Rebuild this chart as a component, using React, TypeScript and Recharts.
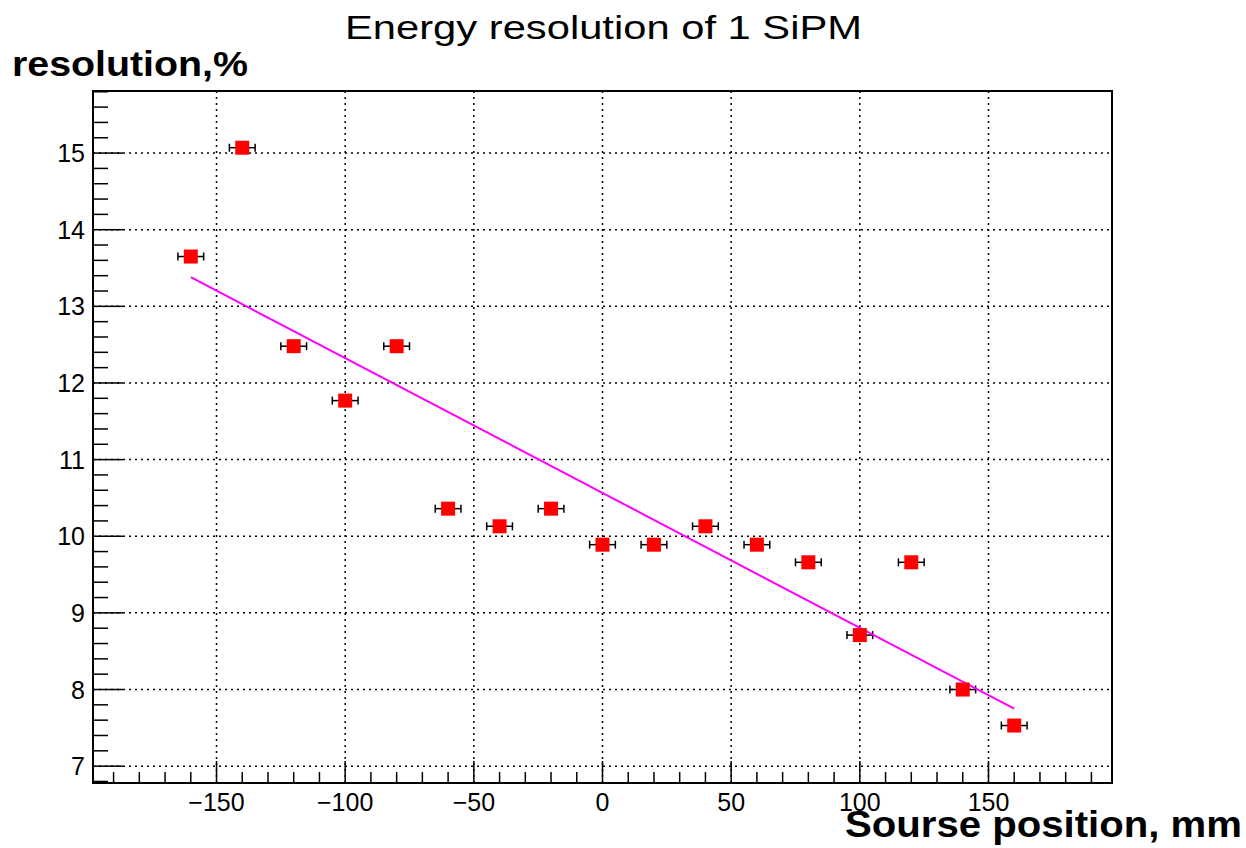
import React from 'react';
import {
  ComposedChart,
  Scatter,
  XAxis,
  YAxis,
  ErrorBar,
  ReferenceLine,
  ReferenceArea,
} from 'recharts';

const positions = [-160, -140, -120, -100, -80, -60, -40, -20, 0, 20, 40, 60, 80, 100, 120, 140, 160];
const resolution = [13.65, 15.07, 12.48, 11.77, 12.48, 10.36, 10.13, 10.36, 9.89, 9.89, 10.13, 9.89, 9.66, 8.71, 9.66, 8.0, 7.53];
const positionErrors = [5, 5, 5, 5, 5, 5, 5, 5, 5, 5, 5, 5, 5, 5, 5, 5, 5];

const fitX = [-160, 160];
const fitY = [13.38, 7.75];

const xMajorTicks = [-150, -100, -50, 0, 50, 100, 150];
const yMajorTicks = [7, 8, 9, 10, 11, 12, 13, 14, 15];

const X_DOMAIN: [number, number] = [-198, 198];
const Y_DOMAIN: [number, number] = [6.78, 15.81];

const xAllTicks: number[] = [];
for (let v = -190; v <= 190; v += 10) xAllTicks.push(v);
const yAllTicks: number[] = [];
for (let i = 34; i <= 79; i++) yAllTicks.push(Math.round(i * 2) / 10);

const points = positions.map((x, i) => ({ x, y: resolution[i], ex: positionErrors[i] }));
const fitData = fitX.map((x, i) => ({ x, y: fitY[i] }));

const FONT = '"Liberation Sans", Arial, Helvetica, sans-serif';

const XTick = (props: any) => {
  const { x, y, payload } = props;
  const v = payload.value;
  const major = xMajorTicks.includes(v);
  const len = major ? 22 : 11;
  return (
    <g>
      <line x1={x} y1={y} x2={x} y2={y - len} stroke="#000" strokeWidth={1.5} />
      {major && (
        <text x={x} y={y + 28} textAnchor="middle" fontSize={25} fontFamily={FONT} fill="#000">
          {v < 0 ? `\u2212${Math.abs(v)}` : `${v}`}
        </text>
      )}
    </g>
  );
};

const YTick = (props: any) => {
  const { x, y, payload } = props;
  const v = payload.value;
  const major = yMajorTicks.some((m) => Math.abs(m - v) < 1e-6);
  const len = major ? 30 : 15;
  return (
    <g>
      <line x1={x} y1={y} x2={x + len} y2={y} stroke="#000" strokeWidth={1.5} />
      {major && (
        <text x={x - 8} y={y + 9} textAnchor="end" fontSize={25} fontFamily={FONT} fill="#000">
          {`${v}`}
        </text>
      )}
    </g>
  );
};

const SquareMarker = (props: any) => {
  const { cx, cy } = props;
  if (cx == null || cy == null) return <g />;
  return <rect x={cx - 7} y={cy - 7} width={14} height={14} fill="#ff0000" />;
};

const NoMarker = () => <g />;

export default function App() {
  return (
    <div style={{ position: 'absolute', left: 0, top: 0, width: 1246, height: 848, background: '#fff' }}>
      <ComposedChart
        width={1246}
        height={848}
        margin={{ top: 91, right: 134, bottom: 25, left: 33 }}
      >
        <XAxis
          type="number"
          dataKey="x"
          domain={X_DOMAIN}
          ticks={xAllTicks}
          interval={0}
          allowDataOverflow
          tickSize={0}
          tickMargin={0}
          axisLine={false}
          tickLine={false}
          height={40}
          tick={<XTick />}
        />
        <YAxis
          type="number"
          dataKey="y"
          domain={Y_DOMAIN}
          ticks={yAllTicks}
          interval={0}
          allowDataOverflow
          tickSize={0}
          tickMargin={0}
          axisLine={false}
          tickLine={false}
          width={60}
          tick={<YTick />}
        />
        {xMajorTicks.map((v) => (
          <ReferenceLine key={`gx${v}`} x={v} stroke="#000" strokeWidth={1.5} strokeDasharray="2 4" />
        ))}
        {yMajorTicks.map((v) => (
          <ReferenceLine key={`gy${v}`} y={v} stroke="#000" strokeWidth={1.5} strokeDasharray="2 4" />
        ))}
        <ReferenceArea
          x1={X_DOMAIN[0]}
          x2={X_DOMAIN[1]}
          y1={Y_DOMAIN[0]}
          y2={Y_DOMAIN[1]}
          fill="none"
          fillOpacity={0}
          stroke="#000"
          strokeWidth={2}
        />
        <Scatter
          data={fitData}
          dataKey="y"
          line={{ stroke: '#ff00ff', strokeWidth: 2 }}
          shape={<NoMarker />}
          isAnimationActive={false}
        />
        <Scatter data={points} dataKey="y" shape={<SquareMarker />} isAnimationActive={false}>
          <ErrorBar dataKey="ex" direction="x" width={4} stroke="#000" strokeWidth={1.5} isAnimationActive={false} />
        </Scatter>
      </ComposedChart>
      <svg
        width={1246}
        height={848}
        style={{ position: 'absolute', left: 0, top: 0, pointerEvents: 'none' }}
      >
        <text x={345} y={39} fontSize={34} fontFamily={FONT} fill="#000" textLength={517} lengthAdjust="spacingAndGlyphs">
          Energy resolution of 1 SiPM
        </text>
        <text x={12} y={76} fontSize={35} fontWeight="bold" fontFamily={FONT} fill="#000" textLength={236} lengthAdjust="spacingAndGlyphs">
          resolution,%
        </text>
        <text x={845} y={837} fontSize={36} fontWeight="bold" fontFamily={FONT} fill="#000" textLength={397} lengthAdjust="spacingAndGlyphs">
          Sourse position, mm
        </text>
      </svg>
    </div>
  );
}
